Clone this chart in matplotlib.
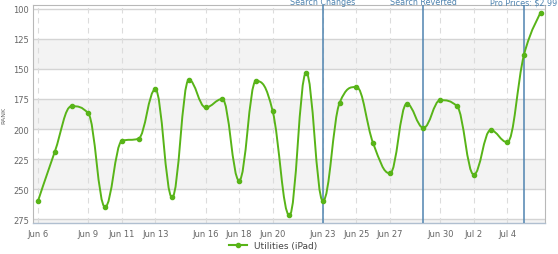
import numpy as np
import pandas as pd
import matplotlib
matplotlib.use('Agg')
import matplotlib.pyplot as plt
import matplotlib.dates as mdates
from matplotlib.path import Path
from matplotlib.patches import PathPatch
from matplotlib.lines import Line2D

dates = pd.date_range('2013-06-06', '2013-07-06', freq='D')
ranks = [260, 219, 181, 187, 265, 210, 208, 167, 257, 159,
         182, 175, 243, 160, 185, 272, 153, 260, 178, 165,
         212, 237, 179, 199, 176, 181, 238, 201, 211, 138, 103]
tick_dates = ['2013-06-06', '2013-06-09', '2013-06-11', '2013-06-13', '2013-06-16',
              '2013-06-18', '2013-06-20', '2013-06-23', '2013-06-25', '2013-06-27',
              '2013-06-30', '2013-07-02', '2013-07-04']
y_ticks = [100, 125, 150, 175, 200, 225, 250, 275]
events = [('2013-06-23', 'Search Changes'),
          ('2013-06-29', 'Search Reverted'),
          ('2013-07-05', 'Pro Prices: $2.99')]
series_name = 'Utilities (iPad)'

green = '#58b418'
blue = '#4f84b0'


def spline_path(xs, ys, smoothing=1.5):
    # highcharts-style spline control points
    denom = smoothing + 1
    n = len(xs)
    lc = [None] * n
    rc = [None] * n
    for i in range(1, n - 1):
        px, py = xs[i], ys[i]
        lx, ly = xs[i - 1], ys[i - 1]
        nx, ny = xs[i + 1], ys[i + 1]
        lcx = (smoothing * px + lx) / denom
        lcy = (smoothing * py + ly) / denom
        rcx = (smoothing * px + nx) / denom
        rcy = (smoothing * py + ny) / denom
        corr = (rcy - lcy) * (rcx - px) / (rcx - lcx) + py - rcy
        lcy += corr
        rcy += corr
        if lcy > ly and lcy > py:
            lcy = max(ly, py); rcy = 2 * py - lcy
        elif lcy < ly and lcy < py:
            lcy = min(ly, py); rcy = 2 * py - lcy
        if rcy > ny and rcy > py:
            rcy = max(ny, py); lcy = 2 * py - rcy
        elif rcy < ny and rcy < py:
            rcy = min(ny, py); lcy = 2 * py - rcy
        lc[i] = (lcx, lcy)
        rc[i] = (rcx, rcy)
    verts = [(xs[0], ys[0])]
    codes = [Path.MOVETO]
    for i in range(1, n):
        c1 = rc[i - 1] if rc[i - 1] is not None else (xs[i - 1], ys[i - 1])
        c2 = lc[i] if lc[i] is not None else (xs[i], ys[i])
        verts += [c1, c2, (xs[i], ys[i])]
        codes += [Path.CURVE4] * 3
    return Path(verts, codes)


fig = plt.figure(figsize=(5.58, 2.55), dpi=100)
ax = fig.add_axes([33.3 / 558, 1 - 224 / 255, (545 - 33.3) / 558, (224 - 6) / 255])

xs = mdates.date2num(dates)
x0 = xs[0] - 0.28
x1 = xs[-1] + 0.25
ax.set_xlim(x0, x1)
ax.set_ylim(278.3, 96.7)

# alternating bands
for lo in [125, 175, 225, 275]:
    ax.axhspan(lo, lo + 25, color='#f3f3f3', zorder=0, lw=0)
for y in y_ticks:
    ax.axhline(y, color='#d4d4d4', lw=1, zorder=1)
tx = mdates.date2num(pd.to_datetime(tick_dates))
for x in tx:
    ax.axvline(x, color='#dcdcdc', lw=0.8, ls=(0, (5, 4)), zorder=1)

for d, label in events:
    xe = mdates.date2num(pd.Timestamp(d))
    ax.axvline(xe, color=blue, lw=1.1, zorder=3)
    ax.annotate(label, xy=(xe, 1), xycoords=('data', 'axes fraction'),
                xytext=(0, 0.6), textcoords='offset points', ha='center',
                va='baseline', fontsize=5.8, color=blue, annotation_clip=False)

path = spline_path(list(xs), list(ranks))
ax.add_patch(PathPatch(path, fill=False, edgecolor=green, lw=1.4, zorder=4))
ax.plot(xs, ranks, ls='none', marker='o', ms=3, color=green, zorder=5)

ax.set_xticks(tx)
ax.set_xticklabels([pd.Timestamp(t).strftime('%b %-d') for t in tick_dates])
ax.set_yticks(y_ticks)
ax.tick_params(axis='both', length=0, labelsize=6, colors='#666666', pad=3)
ax.tick_params(axis='x', pad=4)
ax.set_ylabel('RANK', fontsize=4.5, color='#666666', labelpad=5)

for side in ['top', 'right', 'left']:
    ax.spines[side].set_color('#b8b8b8')
    ax.spines[side].set_linewidth(0.8)
ax.spines['bottom'].set_color('#b0bfd0')
ax.spines['bottom'].set_linewidth(1)

handle = Line2D([], [], color=green, lw=1.5, marker='o', ms=3)
fig.legend([handle], [series_name], loc='center', bbox_to_anchor=(0.49, 1 - 247 / 255),
           frameon=False, fontsize=6.5, handlelength=2, labelcolor='#444444')

fig.savefig('out.png', dpi=100)
